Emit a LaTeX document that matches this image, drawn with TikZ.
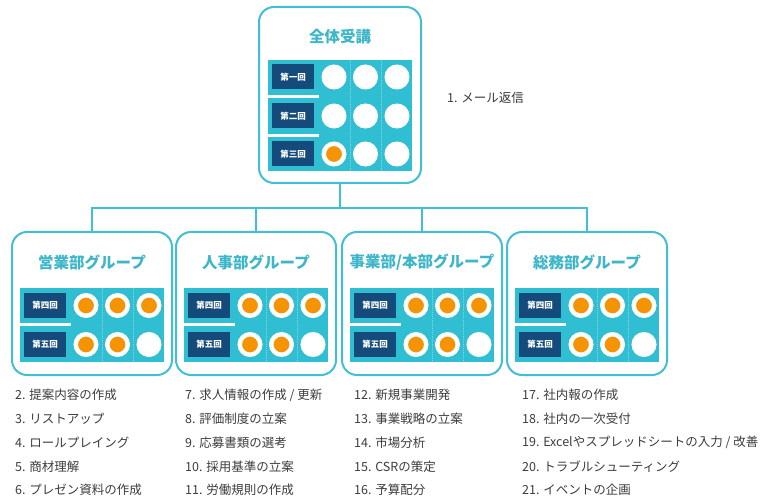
\documentclass[tikz,border=0pt]{standalone}
\usepackage{fontspec}
\setmainfont{Noto Sans CJK JP}
\definecolor{tealline}{HTML}{41C0D3}
\definecolor{tealp}{HTML}{30BED3}
\definecolor{navy}{HTML}{154B7A}
\definecolor{orng}{HTML}{F59300}
\definecolor{titlec}{HTML}{3DB6C9}
\definecolor{textc}{HTML}{3C3C3C}
\newcommand\prow[7]{%
  \node[lab] (#1l) at ({#2+25},#3) {#4};
  \node[dot, fill=#5] (#1a) at ({#2+66},#3) {};
  \node[dot, fill=#6] (#1b) at ({#2+97.5},#3) {};
  \node[dot, fill=#7] (#1c) at ({#2+129},#3) {};
}
\begin{document}
\begin{tikzpicture}[x=1pt,y=-1pt,
  box/.style={draw=tealline, line width=2, rounded corners=15, fill=white, inner sep=0},
  conn/.style={draw=tealline, line width=2},
  panel/.style={fill=tealp, inner sep=0, minimum width=144},
  lab/.style={fill=navy, text=white, minimum width=42, minimum height=25, inner sep=0, font=\fontsize{8.5}{10}\selectfont\bfseries},
  dot/.style={circle, draw=white, line width=4.5, minimum size=20.5, inner sep=0},
  ttl/.style={text=titlec, font=\fontsize{15.5}{18}\selectfont\bfseries, inner sep=0},
  item/.style={anchor=west, text=textc, font=\fontsize{12.5}{14}\selectfont, inner sep=0},
  sep/.style={draw=white, line width=3},
  vdash/.style={draw=white, draw opacity=.4, line width=.5, dash pattern=on 1 off 1}]
\useasboundingbox (0,0) rectangle (761,497);
% top box
\node[box, minimum width=162, minimum height=176] (top) at (340,95) {};
\node[ttl] (toptitle) at (340,37) {全体受講};
\node[panel, minimum height=111] (p0) at (340,115.5) {};
\draw[vdash] (350,60) -- (350,171);
\draw[vdash] (381,60) -- (381,171);
\draw[sep] (268,96.5) -- (319,96.5);
\draw[sep] (268,135.5) -- (319,135.5);
\prow{r1}{268}{77}{第一回}{white}{white}{white}
\prow{r2}{268}{116}{第二回}{white}{white}{white}
\prow{r3}{268}{154}{第三回}{orng}{white}{white}
\node[item] (t1) at (447,98) {1. メール返信};
% group boxes
\foreach \n/\c/\t in {g1/92/{営業部グループ}, g2/256/{人事部グループ}, g3/422/{事業部/本部グループ}, g4/587/{総務部グループ}}{
  \node[box, minimum width=160, minimum height=143] (\n) at (\c,303.5) {};
  \node[ttl] (\n t) at (\c,262) {\t};
  \node[panel, minimum height=74] (\n p) at (\c,325) {};
  \draw[vdash] ({\c-72+82},288) -- ({\c-72+82},362);
  \draw[vdash] ({\c-72+113.5},288) -- ({\c-72+113.5},362);
  \draw[sep] ({\c-72},325) -- ({\c-72+51},325);
  \prow{\n r4}{\c-72}{305.5}{第四回}{orng}{orng}{orng}
  \prow{\n r5}{\c-72}{344.5}{第五回}{orng}{orng}{white}
}
% connectors
\coordinate (bus) at (340,208);
\draw[conn] (top.south) -- (bus);
\draw[conn] (g1.north) |- (bus) -| (g4.north);
\draw[conn] (g2.north) -- (g2.north |- bus);
\draw[conn] (g3.north) -- (g3.north |- bus);
% lists
\node[item] (a2) at (15,395) {2. 提案内容の作成};
\node[item] (a3) at (15,418.5) {3. リストアップ};
\node[item] (a4) at (15,442.5) {4. ロールプレイング};
\node[item] (a5) at (15,466.5) {5. 商材理解};
\node[item] (a6) at (15,490) {6. プレゼン資料の作成};
\node[item] (a7) at (185,395) {7. 求人情報の作成 / 更新};
\node[item] (a8) at (185,418.5) {8. 評価制度の立案};
\node[item] (a9) at (185,442.5) {9. 応募書類の選考};
\node[item] (a10) at (185,466.5) {10. 採用基準の立案};
\node[item] (a11) at (185,490) {11. 労働規則の作成};
\node[item] (a12) at (354,395) {12. 新規事業開発};
\node[item] (a13) at (354,418.5) {13. 事業戦略の立案};
\node[item] (a14) at (354,442.5) {14. 市場分析};
\node[item] (a15) at (354,466.5) {15. CSRの策定};
\node[item] (a16) at (354,490) {16. 予算配分};
\node[item] (a17) at (522,395) {17. 社内報の作成};
\node[item] (a18) at (522,418.5) {18. 社内の一次受付};
\node[item] (a19) at (522,442.5) {19. Excelやスプレッドシートの入力 / 改善};
\node[item] (a20) at (522,466.5) {20. トラブルシューティング};
\node[item] (a21) at (522,490) {21. イベントの企画};
\end{tikzpicture}
\end{document}
